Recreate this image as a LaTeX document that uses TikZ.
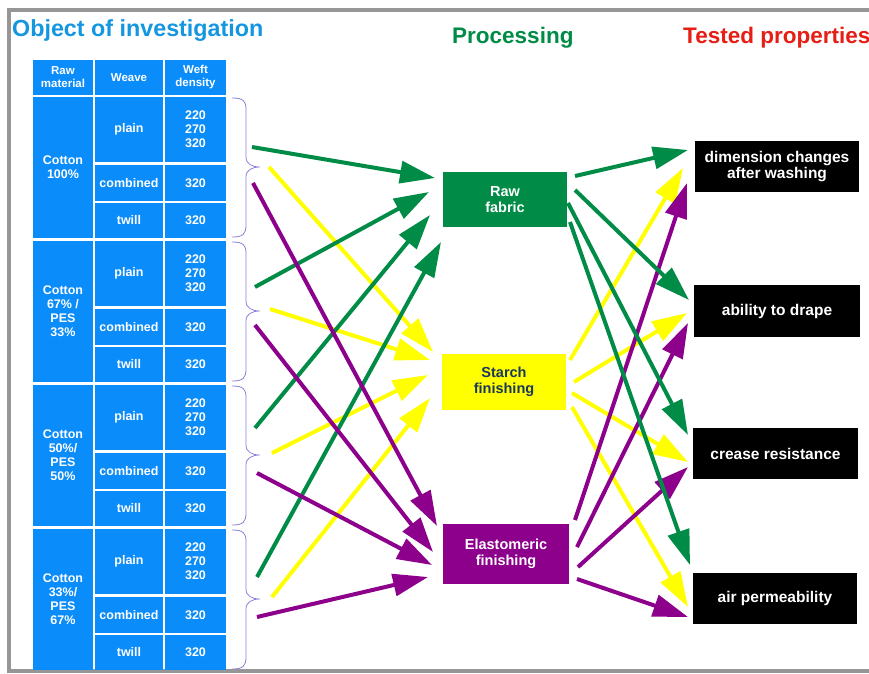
\documentclass[tikz,border=0pt]{standalone}
\usepackage{fontspec}
\setmainfont{Liberation Sans}
\usetikzlibrary{arrows.meta}
\definecolor{tblue}{RGB}{10,140,250}
\definecolor{titleblue}{RGB}{20,150,225}
\definecolor{pgreen}{RGB}{0,140,70}
\definecolor{tred}{RGB}{230,30,20}
\definecolor{ayellow}{RGB}{255,255,0}
\definecolor{apurple}{RGB}{140,0,140}
\definecolor{navytext}{RGB}{25,55,95}
\definecolor{bracecol}{RGB}{140,130,215}
\definecolor{framegray}{RGB}{150,150,150}
\tikzset{
  cellbox/.style={fill=tblue,text=white,inner sep=0pt,align=center,
    font=\bfseries\fontsize{12.5}{14}\selectfont},
  headbox/.style={cellbox,font=\bfseries\fontsize{11.5}{13}\selectfont},
  midbox/.style={inner sep=0pt,align=center,font=\bfseries\fontsize{14.5}{16.5}\selectfont},
  propbox/.style={fill=black,text=white,inner sep=0pt,align=center,
    font=\bfseries\fontsize{15.5}{13}\selectfont},
  arr/.style={line width=4pt,-{Triangle[length=35pt,width=22pt]}},
  garrow/.style={arr,draw=pgreen,fill=pgreen},
  yarrow/.style={arr,draw=ayellow,fill=ayellow},
  parrow/.style={arr,draw=apurple,fill=apurple},
  bracestyle/.style={draw=bracecol,line width=0.8pt},
  heading/.style={anchor=base west,inner sep=0pt,font=\bfseries\fontsize{22.5}{26}\selectfont}
}
% #1 name, #2 x, #3 y, #4 w, #5 h, #6 text, #7 style
\newcommand\cellnode[7]{\node[#7,minimum width=#4pt,minimum height=#5pt] (#1) at ({#2+#4/2},{#3+#5/2}) {#6};}
\newcommand\grp[3]{%
  \cellnode{raw#1}{33}{#2}{60}{141}{#3}{cellbox}
  \cellnode{plain#1}{95}{#2}{68}{65}{plain}{cellbox}
  \cellnode{pd#1}{165}{#2}{61}{65}{220\\270\\320}{cellbox}
  \cellnode{comb#1}{95}{#2+68}{68}{36}{combined}{cellbox}
  \cellnode{cd#1}{165}{#2+68}{61}{36}{320}{cellbox}
  \cellnode{twill#1}{95}{#2+106}{68}{35}{twill}{cellbox}
  \cellnode{td#1}{165}{#2+106}{61}{35}{320}{cellbox}
  \draw[bracestyle] (232,{#2+1}) .. controls (243,{#2+1}) and (246,{#2+4}) .. (246,{#2+12})
     -- (246,{#2+60}) .. controls (246,{#2+67}) and (252,{#2+70}) .. (260,{#2+70})
     .. controls (252,{#2+70}) and (246,{#2+73}) .. (246,{#2+80})
     -- (246,{#2+128}) .. controls (246,{#2+137}) and (243,{#2+140}) .. (232,{#2+140});
}
\begin{document}
\begin{tikzpicture}[x=1pt,y=-1pt]
\useasboundingbox (0,0) rectangle (869,673);
\fill[white] (0,0) rectangle (869,673);
% frame
\draw[framegray,line width=4pt] (9,671) -- (9,10) -- (875,10);
\draw[framegray,line width=4pt] (7,671) -- (875,671);
% headings
\node[heading,text=titleblue,font=\bfseries\fontsize{23.3}{26}\selectfont] (title) at (12,36) {Object of investigation};
\node[heading,text=pgreen] (proc) at (452,43) {Processing};
\node[heading,text=tred] (tested) at (683,43) {Tested properties};
% table header
\cellnode{hraw}{33}{60}{60}{35}{Raw\\material}{headbox}
\cellnode{hweave}{95}{60}{68}{35}{Weave}{headbox}
\cellnode{hweft}{165}{60}{61}{35}{Weft\\density}{headbox}
% groups
\grp{1}{97}{Cotton\\100\%}
\grp{2}{241}{Cotton\\67\% /\\PES\\33\%}
\grp{3}{385}{Cotton\\50\%/\\PES\\50\%}
\grp{4}{529}{Cotton\\33\%/\\PES\\67\%}
% processing boxes
\cellnode{rawf}{443}{172}{124}{55}{Raw\\fabric}{midbox,fill=pgreen,text=white}
\cellnode{starch}{442}{354}{124}{56}{Starch\\finishing}{midbox,fill=ayellow,text=navytext}
\cellnode{elast}{443}{524}{126}{60}{Elastomeric\\finishing}{midbox,fill=apurple,text=white}
% property boxes
\cellnode{dim}{695}{141}{164}{51}{dimension changes\\after washing}{propbox}
\cellnode{drape}{694}{285}{166}{52}{ability to drape}{propbox}
\cellnode{crease}{693}{428}{165}{51}{crease resistance}{propbox}
\cellnode{air}{693}{573}{164}{51}{air permeability}{propbox}
% arrow coordinates (left)
\coordinate (g1g) at (252,147); \coordinate (g1y) at (269,167); \coordinate (g1p) at (253,183);
\coordinate (g2g) at (255,287); \coordinate (g2y) at (270,309); \coordinate (g2p) at (255,325);
\coordinate (g3g) at (255,428); \coordinate (g3y) at (272,453); \coordinate (g3p) at (257,473);
\coordinate (g4g) at (257,577); \coordinate (g4y) at (272,597); \coordinate (g4p) at (257,617);
\coordinate (rin1) at (435,178); \coordinate (rin2) at (429,192); \coordinate (rin3) at (430,215); \coordinate (rin4) at (441,242);
\coordinate (sin1) at (433,352); \coordinate (sin2) at (430,360); \coordinate (sin3) at (428,375); \coordinate (sin4) at (430,398);
\coordinate (ein1) at (437,526); \coordinate (ein2) at (433,552); \coordinate (ein3) at (432,565); \coordinate (ein4) at (428,577);
% arrow coordinates (right)
\coordinate (rout1) at (575,176); \coordinate (rout2) at (575,190); \coordinate (rout3) at (568,203); \coordinate (rout4) at (570,222);
\coordinate (sout1) at (570,360); \coordinate (sout2) at (574,382); \coordinate (sout3) at (572,393); \coordinate (sout4) at (572,407);
\coordinate (eout1) at (575,520); \coordinate (eout2) at (577,547); \coordinate (eout3) at (578,567); \coordinate (eout4) at (577,579);
\coordinate (dimin1) at (688,150); \coordinate (dimin2) at (683,168); \coordinate (dimin3) at (687,183);
\coordinate (drin1) at (689,300); \coordinate (drin2) at (687,313); \coordinate (drin3) at (688,323);
\coordinate (crin1) at (688,435); \coordinate (crin2) at (688,462); \coordinate (crin3) at (688,467);
\coordinate (airin1) at (690,565); \coordinate (airin2) at (688,607); \coordinate (airin3) at (688,617);
% left arrows
\draw[yarrow] (g1y) -- (sin1);
\draw[yarrow] (g2y) -- (sin2);
\draw[yarrow] (g3y) -- (sin3);
\draw[yarrow] (g4y) -- (sin4);
\draw[garrow] (g1g) -- (rin1);
\draw[garrow] (g2g) -- (rin2);
\draw[garrow] (g3g) -- (rin3);
\draw[garrow] (g4g) -- (rin4);
\draw[parrow] (g1p) -- (ein1);
\draw[parrow] (g2p) -- (ein2);
\draw[parrow] (g3p) -- (ein3);
\draw[parrow] (g4p) -- (ein4);
% right arrows
\draw[yarrow] (sout1) -- (dimin2);
\draw[yarrow] (sout2) -- (drin2);
\draw[yarrow] (sout3) -- (crin2);
\draw[yarrow] (sout4) -- (airin2);
\draw[parrow] (eout1) -- (dimin3);
\draw[parrow] (eout2) -- (drin3);
\draw[parrow] (eout3) -- (crin3);
\draw[parrow] (eout4) -- (airin3);
\draw[garrow] (rout1) -- (dimin1);
\draw[garrow] (rout2) -- (drin1);
\draw[garrow] (rout3) -- (crin1);
\draw[garrow] (rout4) -- (airin1);
\end{tikzpicture}
\end{document}
